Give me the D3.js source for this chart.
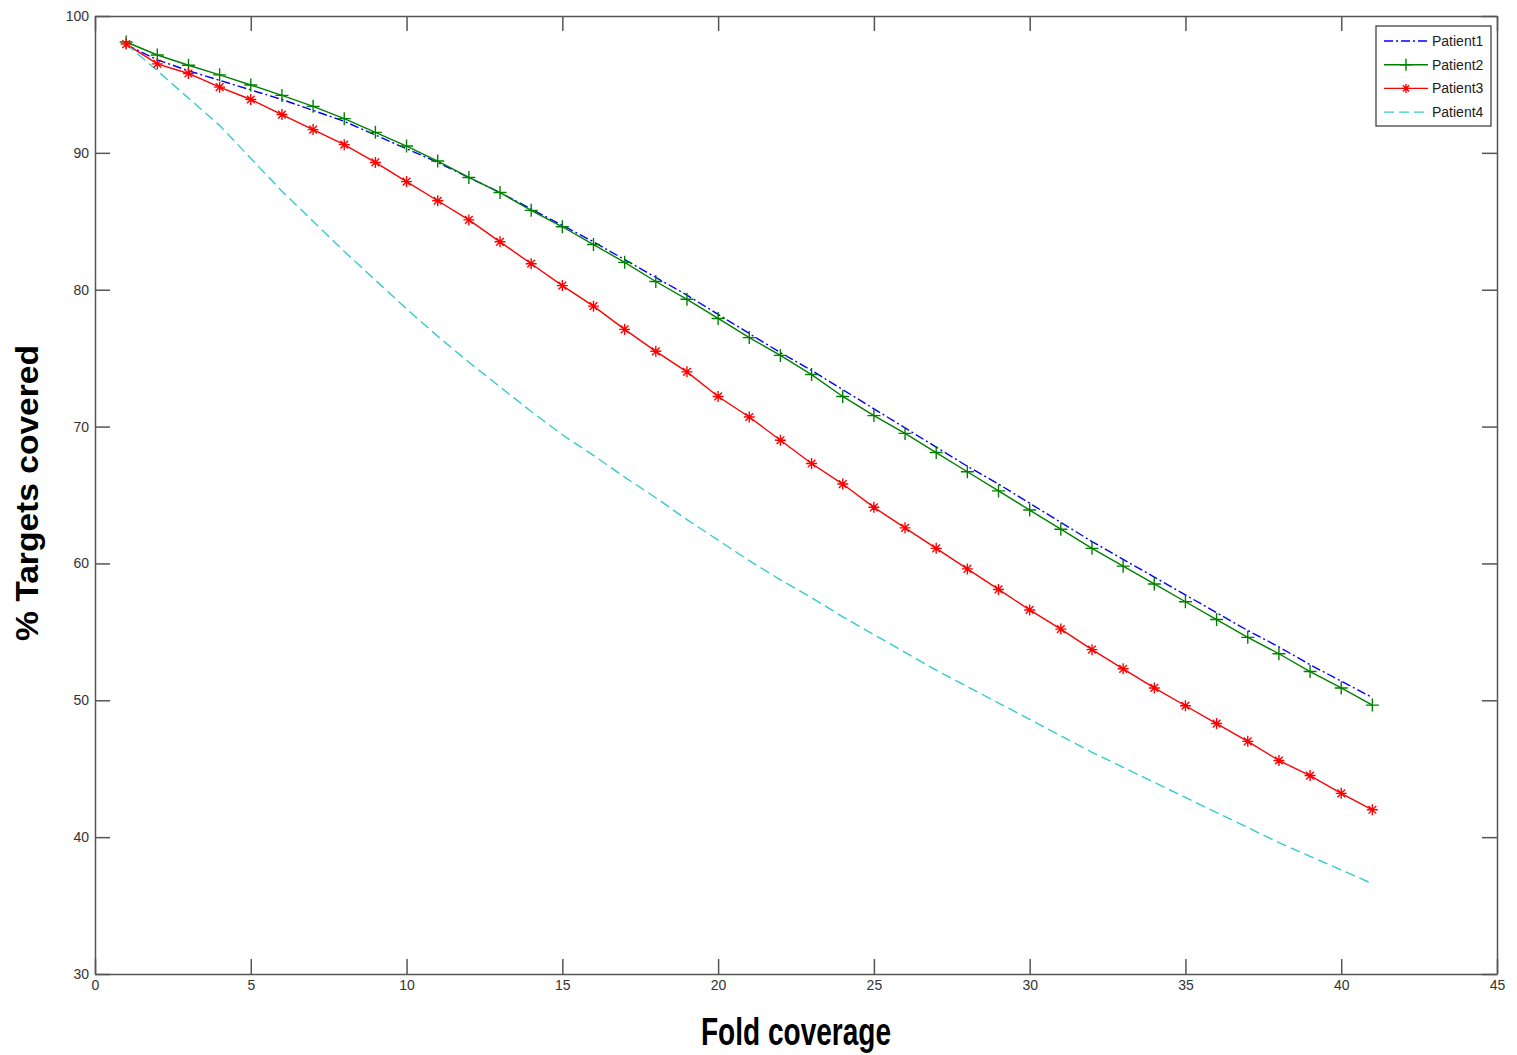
<!DOCTYPE html>
<html>
<head>
<meta charset="utf-8">
<script src="https://cdn.jsdelivr.net/npm/d3@7"></script>
<style>
  body { margin: 0; background: #fff; }
  svg { display: block; }
  .tick text { font-family: "Liberation Sans", Arial, sans-serif; font-size: 14px; fill: #333; }
</style>
</head>
<body>
<div id="chart"></div>
<script>
// data
var folds = d3.range(1, 42);
var patient1 = [97.9, 96.8, 96.0, 95.3, 94.6, 93.9, 93.1, 92.3, 91.3, 90.3, 89.3, 88.2, 87.1, 85.9, 84.7, 83.5, 82.2, 80.9, 79.6, 78.2,
    76.8, 75.4, 74.1, 72.7, 71.3, 69.9, 68.5, 67.1, 65.8, 64.4, 63.0, 61.6, 60.3, 59.0, 57.7, 56.4, 55.1, 53.9, 52.6, 51.4, 50.2];
var patient2 = [98.1, 97.15, 96.4, 95.7, 94.96, 94.2, 93.4, 92.5, 91.5, 90.5, 89.4, 88.2, 87.1, 85.8, 84.6, 83.3, 82.0, 80.6, 79.3, 77.9,
    76.5, 75.2, 73.8, 72.2, 70.8, 69.5, 68.1, 66.7, 65.3, 63.9, 62.5, 61.1, 59.8, 58.5, 57.2, 55.9, 54.6, 53.4, 52.1, 50.9, 49.65];
var patient3 = [97.95, 96.5, 95.8, 94.8, 93.9, 92.8, 91.7, 90.6, 89.3, 87.9, 86.5, 85.1, 83.5, 81.9, 80.3, 78.8, 77.1, 75.5, 74.0, 72.2,
    70.7, 69.0, 67.3, 65.8, 64.1, 62.6, 61.1, 59.6, 58.1, 56.6, 55.2, 53.7, 52.3, 50.9, 49.6, 48.3, 47.0, 45.6, 44.5, 43.2, 42.0];
var patient4 = [97.95, 96.0, 94.0, 92.0, 89.6, 87.2, 85.0, 82.8, 80.7, 78.6, 76.6, 74.7, 72.9, 71.1, 69.4, 67.9, 66.3, 64.8, 63.2, 61.7,
    60.2, 58.8, 57.5, 56.1, 54.8, 53.5, 52.2, 51.0, 49.8, 48.6, 47.4, 46.2, 45.1, 44.0, 42.9, 41.8, 40.7, 39.6, 38.6, 37.6, 36.6];
var seriesNames = ["Patient1", "Patient2", "Patient3", "Patient4"];
var xTicks = [0, 5, 10, 15, 20, 25, 30, 35, 40, 45];
var yTicks = [30, 40, 50, 60, 70, 80, 90, 100];

var svgWidth = 1517;
var svgHeight = 1055;
var margin = { top: 16, right: 20, bottom: 81, left: 95 };
var width = svgWidth - margin.left - margin.right;
var height = svgHeight - margin.top - margin.bottom;

var series = [
    { name: seriesNames[0], values: patient1, color: "#0000ff", dash: "9,3,2,3", marker: null },
    { name: seriesNames[1], values: patient2, color: "#008000", dash: null, marker: "plus" },
    { name: seriesNames[2], values: patient3, color: "#ff0000", dash: null, marker: "star" },
    { name: seriesNames[3], values: patient4, color: "#33cccc", dash: "10,5", marker: null }
];

var svg = d3.select("#chart")
    .append("svg")
    .attr("width", svgWidth)
    .attr("height", svgHeight);

var chartGroup = svg.append("g")
    .attr("transform", `translate(${margin.left}, ${margin.top})`);

var xScale = d3.scaleLinear().domain([0, 45]).range([0, width]);
var yScale = d3.scaleLinear().domain([30, 100]).range([height, 0]);

// ejes con ticks hacia dentro (estilo matlab)
var tickLen = 15;
var axisColor = "#555";

var bottomAxis = d3.axisBottom(xScale).tickValues(xTicks).tickSizeInner(-tickLen).tickSizeOuter(0).tickPadding(6);
var topAxis = d3.axisTop(xScale).tickValues(xTicks).tickSizeInner(-tickLen).tickSizeOuter(0).tickFormat("");
var leftAxis = d3.axisLeft(yScale).tickValues(yTicks).tickSizeInner(-tickLen).tickSizeOuter(0).tickPadding(6);
var rightAxis = d3.axisRight(yScale).tickValues(yTicks).tickSizeInner(-tickLen).tickSizeOuter(0).tickFormat("");

var axes = [
    chartGroup.append("g").attr("transform", `translate(0, ${height})`).call(bottomAxis),
    chartGroup.append("g").call(topAxis),
    chartGroup.append("g").call(leftAxis),
    chartGroup.append("g").attr("transform", `translate(${width}, 0)`).call(rightAxis)
];
axes.forEach(function(a) {
    a.selectAll("path").attr("stroke", axisColor).attr("stroke-width", 1.5);
    a.selectAll("line").attr("stroke", axisColor).attr("stroke-width", 1.5);
});

// lineas
var line = d3.line()
    .x((d, i) => xScale(folds[i]))
    .y(d => yScale(d));

series.forEach(function(s) {
    chartGroup.append("path")
        .datum(s.values)
        .attr("fill", "none")
        .attr("stroke", s.color)
        .attr("stroke-width", 1.4)
        .attr("stroke-dasharray", s.dash)
        .attr("d", line);
});

function markerPath(type, r) {
    var p = `M${-r},0H${r}M0,${-r}V${r}`;
    if (type === "star") {
        var k = r * 0.7;
        p += `M${-k},${-k}L${k},${k}M${-k},${k}L${k},${-k}`;
    }
    return p;
}

series.filter(s => s.marker).forEach(function(s) {
    chartGroup.append("g").selectAll("path")
        .data(s.values)
        .enter()
        .append("path")
        .attr("transform", (d, i) => `translate(${xScale(folds[i])}, ${yScale(d)})`)
        .attr("d", markerPath(s.marker, s.marker === "star" ? 5.5 : 6.5))
        .attr("fill", "none")
        .attr("stroke", s.color)
        .attr("stroke-width", 1.4);
});

// leyenda
var legend = svg.append("g").attr("transform", "translate(1376, 26)");
legend.append("rect")
    .attr("width", 115)
    .attr("height", 100)
    .attr("fill", "#fff")
    .attr("stroke", "#333")
    .attr("stroke-width", 1.2);

series.forEach(function(s, i) {
    var yy = 15 + i * 23.7;
    legend.append("line")
        .attr("x1", 8).attr("x2", 52)
        .attr("y1", yy).attr("y2", yy)
        .attr("stroke", s.color)
        .attr("stroke-width", 1.4)
        .attr("stroke-dasharray", s.dash);
    if (s.marker) {
        legend.append("path")
            .attr("transform", `translate(30, ${yy})`)
            .attr("d", markerPath(s.marker, s.marker === "star" ? 4.5 : 6))
            .attr("fill", "none")
            .attr("stroke", s.color)
            .attr("stroke-width", 1.4);
    }
    legend.append("text")
        .attr("x", 56)
        .attr("y", yy + 5)
        .attr("font-family", "Liberation Sans, Arial, sans-serif")
        .attr("font-size", "14px")
        .attr("fill", "#222")
        .text(s.name);
});

// titulos de ejes
svg.append("text")
    .attr("x", 796)
    .attr("y", 1045)
    .attr("text-anchor", "middle")
    .attr("font-family", "Liberation Sans Narrow, Liberation Sans, Arial, sans-serif")
    .attr("font-weight", "bold")
    .attr("font-size", "38px")
    .attr("textLength", 190)
    .attr("lengthAdjust", "spacingAndGlyphs")
    .text("Fold coverage");

svg.append("text")
    .attr("transform", "translate(38, 493) rotate(-90)")
    .attr("text-anchor", "middle")
    .attr("font-family", "Liberation Sans, Arial, sans-serif")
    .attr("font-weight", "bold")
    .attr("font-size", "32px")
    .attr("textLength", 296)
    .attr("lengthAdjust", "spacingAndGlyphs")
    .text("% Targets covered");
</script>
</body>
</html>
